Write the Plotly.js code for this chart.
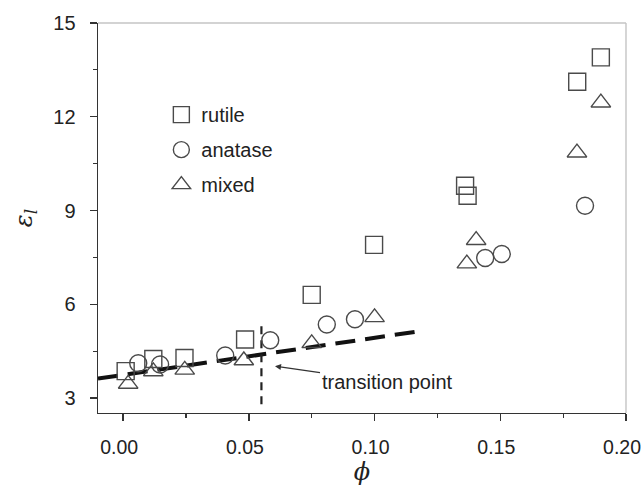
<!DOCTYPE html>
<html>
<head>
<meta charset="utf-8">
<script src="https://cdn.plot.ly/plotly-3.0.1.min.js"></script>
<style>html,body{margin:0;padding:0;background:#fff;}#chart{width:644px;height:496px;}</style>
</head>
<body>
<div id="chart"></div>
<script>
// ---- data ----
const rutileX = [0.001, 0.012, 0.0244, 0.0485, 0.075, 0.0998, 0.136, 0.137, 0.1806, 0.190];
const rutileY = [3.86, 4.25, 4.28, 4.87, 6.30, 7.90, 9.79, 9.47, 13.12, 13.90];

const anataseX = [0.006, 0.0147, 0.0406, 0.0585, 0.081, 0.0922, 0.144, 0.1506, 0.1837];
const anataseY = [4.11, 4.07, 4.36, 4.85, 5.35, 5.52, 7.48, 7.61, 9.15];

const mixedX = [0.002, 0.012, 0.0245, 0.048, 0.075, 0.100, 0.1367, 0.1404, 0.1805, 0.190];
const mixedY = [3.45, 3.85, 3.90, 4.20, 4.75, 5.58, 7.30, 8.05, 10.85, 12.45];

const fitX = [-0.01, 0.118];
const fitY = [3.62, 5.14];

const transX = [0.055, 0.055];
const transY = [2.8, 5.45];

const arrowPoint = {x: 0.0604, y: 4.02};
const xTicks = [0, 0.05, 0.10, 0.15, 0.20];
const xTickText = ['0.00', '0.05', '0.10', '0.15', '0.20'];
const yTicks = [3, 6, 9, 12, 15];

// ---- styles ----
const mColor = '#4a4a4a';
const font = 'Liberation Sans, Arial, sans-serif';
const fs = 20;
const mk = (sym) => ({symbol: sym, size: 17, color: mColor, line: {width: 1.4, color: mColor}});

const traces = [
  {x: fitX, y: fitY, mode: 'lines', line: {color: '#111', width: 4, dash: '20px,10px'}, showlegend: false, hoverinfo: 'skip'},
  {x: transX, y: transY, mode: 'lines', line: {color: '#222', width: 2.2, dash: '8px,6px'}, showlegend: false, hoverinfo: 'skip'},
  {x: rutileX, y: rutileY, mode: 'markers', name: 'rutile', legendgroup: 'a', marker: mk('square-open')},
  {x: anataseX, y: anataseY, mode: 'markers', name: 'anatase', legendgroup: 'b', marker: mk('circle-open')},
  {x: mixedX, y: mixedY, mode: 'markers', name: 'mixed', legendgroup: 'c', marker: mk('triangle-up-open')}
];

const layout = {
  width: 644, height: 496,
  margin: {l: 98, r: 18, t: 23, b: 83},
  paper_bgcolor: '#fff', plot_bgcolor: '#fff',
  font: {family: font, size: fs, color: '#222'},
  showlegend: true,
  legend: {x: 0.12, y: 0.815, xanchor: 'left', yanchor: 'top', bgcolor: 'rgba(0,0,0,0)',
           font: {size: fs, family: font, color: '#222'}, traceorder: 'grouped', tracegroupgap: 6},
  xaxis: {
    range: [-0.01, 0.20], tickvals: xTicks, ticktext: xTickText, ticklabeloverflow: 'allow', ticklabelshift: -4,
    showgrid: false, zeroline: false, showline: true, linecolor: '#333', linewidth: 1.4,
    ticks: 'outside', ticklen: 7, tickwidth: 1.3, tickcolor: '#333', ticklabelstandoff: 9,
    minor: {dtick: 0.025, tick0: 0, ticks: 'outside', ticklen: 4, tickwidth: 1.2, tickcolor: '#333', showgrid: false},
    tickfont: {size: 19.5, family: font, color: '#222'},
    title: {text: '<i>ϕ</i>', font: {size: 24, family: 'DejaVu Serif, serif', color: '#222'}, standoff: 4}
  },
  yaxis: {
    range: [2.52, 15], tickvals: yTicks,
    showgrid: false, zeroline: false, showline: true, linecolor: '#333', linewidth: 1.4,
    ticks: 'outside', ticklen: 7, tickwidth: 1.3, tickcolor: '#333', ticklabelstandoff: 10,
    minor: {dtick: 1.5, tick0: 3, ticks: 'outside', ticklen: 4, tickwidth: 1.2, tickcolor: '#333', showgrid: false},
    tickfont: {size: fs, family: font, color: '#222'},
    title: {text: '<i>ε</i><sub><i>l</i></sub>', font: {size: 24, family: 'DejaVu Serif, serif', color: '#222'}, standoff: 14}
  },
  shapes: [
    {type: 'line', xref: 'paper', yref: 'paper', x0: 0, x1: 1, y0: 1, y1: 1, line: {color: '#c4c4c4', width: 1.4}},
    {type: 'line', xref: 'paper', yref: 'paper', x0: 1, x1: 1, y0: 0, y1: 1, line: {color: '#c4c4c4', width: 1.4}}
  ],
  annotations: [
    {x: arrowPoint.x, y: arrowPoint.y, xref: 'x', yref: 'y', text: 'transition point',
     showarrow: true, arrowhead: 2, arrowsize: 1, arrowwidth: 1.2, arrowcolor: '#333',
     ax: 112, ay: 16, font: {size: fs, family: font, color: '#222'}}
  ]
};

Plotly.newPlot('chart', traces, layout, {displayModeBar: false, staticPlot: true});
</script>
</body>
</html>
